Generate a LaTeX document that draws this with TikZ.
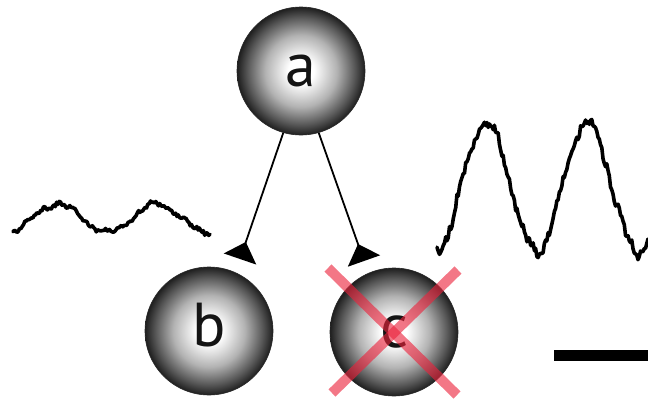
\documentclass[tikz,border=0pt]{standalone}
\usepackage{fontspec}
\setmainfont{PT Sans}
\usetikzlibrary{arrows.meta}
\pgfdeclareradialshading{sphere}{\pgfpoint{0bp}{0bp}}{color(0bp)=(white); color(5bp)=(white); color(14bp)=(black!30); color(21bp)=(black!66); color(25bp)=(black!88); color(50bp)=(black!88)}
\definecolor{xred}{RGB}{235,35,60}
\begin{document}
\begin{tikzpicture}[x=1pt,y=-1pt,
  ball/.style={circle, minimum size=128pt, inner sep=0pt, shading=sphere, draw=black!85, line width=0.6pt,
    font=\fontsize{62}{62}\selectfont, text height=31pt, text depth=0pt, text=black!92},
  syn/.style={line width=1.8pt, -{Triangle[reversed, length=18pt, width=34pt]}},
  trace/.style={line width=3.6pt, line join=round, line cap=round},
  cross/.style={line width=10pt, draw=xred, opacity=0.62}]
\useasboundingbox (0,0) rectangle (648,399);
\pgfmathsetseed{7}
% neurons
\node[ball] (a) at (301,71) {a};
\node[ball] (b) at (209,331) {b};
\node[ball] (c) at (394,332) {c};
% synapse ends
\coordinate (bt) at (240,259);
\coordinate (ct) at (364,261);
\draw[syn] (a.-106) -- (bt);
\draw[syn] (a.-74) -- (ct);
% red cross
\coordinate (x1) at (328,268);
\coordinate (x2) at (457,395);
\coordinate (x3) at (458,270);
\coordinate (x4) at (332,393);
\draw[cross] (x1) -- (x2);
\draw[cross] (x3) -- (x4);
% traces
\draw[trace] plot[domain=13:210, samples=150] (\x, {218 - 14*cos(3.6*(\x-57)) + 1.8*rand + 1.6*sin(9*\x) + 1.2*sin(23*\x)});
\draw[trace] plot[domain=437:648, samples=170] (\x, {187 - 64*cos(3.564*(\x-486)) + 4.5*rand + 3.5*sin(11*(\x-437)) + 2*sin(29*(\x-437))});
% scale bar
\coordinate (s1) at (554,355);
\coordinate (s2) at (648,355);
\draw[line width=11pt] (s1) -- (s2);
\end{tikzpicture}
\end{document}
